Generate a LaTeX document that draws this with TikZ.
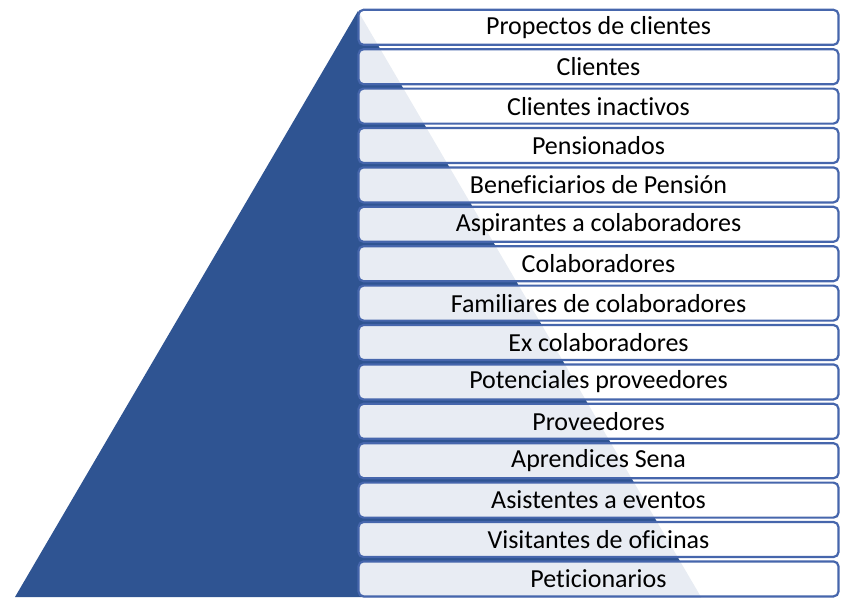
\documentclass[tikz,border=0pt]{standalone}
\usepackage{fontspec}
\setmainfont{Carlito}[Ligatures=NoCommon]
\definecolor{tri}{RGB}{47,84,146}
\definecolor{bord}{RGB}{70,102,172}
\begin{document}
\begin{tikzpicture}[x=1pt,y=-1pt,
  level/.style={draw=bord, line width=2.2pt, rounded corners=5pt,
    fill=white, fill opacity=0.89, text opacity=1,
    minimum width=480pt, minimum height=35pt, inner sep=0pt,
    font=\fontsize{26}{30}\selectfont, text=black}]
\useasboundingbox (0,0) rectangle (845,603);
\fill[tri] (358,11) -- (15,597) -- (701,597) -- cycle;
\foreach \t [count=\i from 0] in {Propectos de clientes, Clientes, Clientes inactivos, Pensionados, Beneficiarios de Pensión, Aspirantes a colaboradores, Colaboradores, Familiares de colaboradores, Ex colaboradores, Potenciales proveedores, Proveedores, Aprendices Sena, Asistentes a eventos, Visitantes de oficinas, Peticionarios}
  \node[level] (b\i) at (598.5, {27.3+39.4*\i}) {\t};
\end{tikzpicture}
\end{document}
